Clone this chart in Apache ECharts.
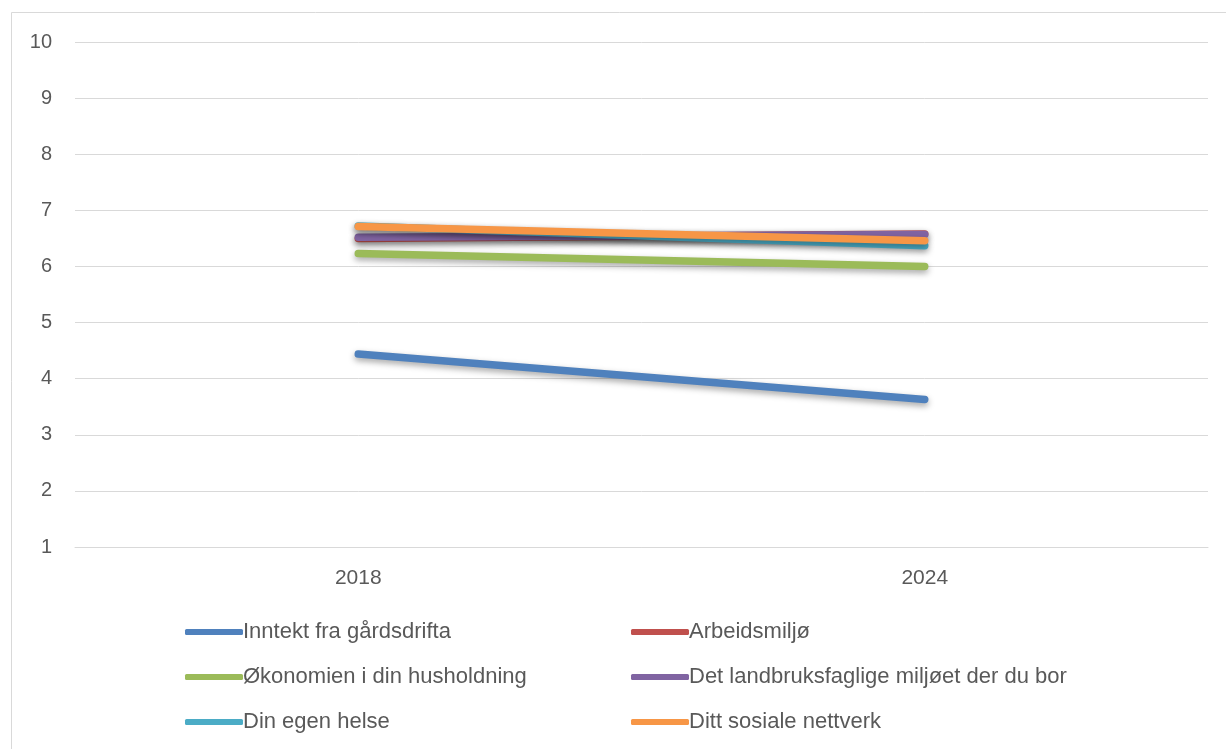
<!DOCTYPE html>
<html>
<head>
<meta charset="utf-8">
<script src="https://cdn.jsdelivr.net/npm/echarts@6/dist/echarts.min.js"></script>
<style>
  html, body { margin: 0; padding: 0; background: #fff; }
  #main { width: 1226px; height: 749px; }
</style>
</head>
<body>
<div id="main"></div>
<script>
// categories and series values
var years = ['2018', '2024'];
var seriesNames = [
  'Inntekt fra gårdsdrifta',
  'Arbeidsmiljø',
  'Økonomien i din husholdning',
  'Det landbruksfaglige miljøet der du bor',
  'Din egen helse',
  'Ditt sosiale nettverk'
];
var inntekt = [4.44, 3.63];
var arbeidsmiljo = [6.50, 6.58];
var okonomien = [6.23, 6.00];
var landbruksmiljo = [6.52, 6.57];
var helse = [6.72, 6.37];
var nettverk = [6.71, 6.46];
var colors = ['#4f81bd', '#c0504d', '#9bbb59', '#8064a2', '#4bacc6', '#f79646'];

var allValues = [inntekt, arbeidsmiljo, okonomien, landbruksmiljo, helse, nettverk];
var textColor = '#595959';
var fontFam = 'Liberation Sans, Arial, sans-serif';

var chart = echarts.init(document.getElementById('main'));

var series = seriesNames.map(function (name, i) {
  return {
    name: name,
    type: 'line',
    data: allValues[i],
    symbol: 'none',
    z: 2 + i,
    lineStyle: {
      width: 7.5,
      cap: 'round',
      color: colors[i],
      shadowColor: 'rgba(0,0,0,0.35)',
      shadowBlur: 6,
      shadowOffsetY: 3
    },
    itemStyle: { color: colors[i] }
  };
});

function legendCol(left, names) {
  return {
    orient: 'vertical',
    left: left,
    top: 616,
    itemGap: 23,
    itemWidth: 58,
    itemHeight: 6,
    icon: 'roundRect',
    data: names,
    textStyle: { color: textColor, fontSize: 22, fontFamily: fontFam, padding: [0, 0, 0, -5] }
  };
}

chart.setOption({
  backgroundColor: '#fff',
  animation: false,
  color: colors,
  graphic: [{
    type: 'rect',
    shape: { x: 11.5, y: 12.5, width: 1230, height: 760 },
    style: { fill: 'none', stroke: '#d9d9d9', lineWidth: 1 },
    silent: true
  }],
  grid: { left: 75, right: 18, top: 42, bottom: 202, containLabel: false },
  legend: [
    legendCol(180, [seriesNames[0], seriesNames[2], seriesNames[4]]),
    legendCol(626, [seriesNames[1], seriesNames[3], seriesNames[5]])
  ],
  xAxis: {
    type: 'category',
    data: years,
    boundaryGap: true,
    axisLine: { lineStyle: { color: '#d9d9d9', width: 1 } },
    axisTick: { show: false },
    axisLabel: { color: textColor, fontSize: 21, fontFamily: fontFam, margin: 21 }
  },
  yAxis: {
    type: 'value',
    min: 1,
    max: 10,
    interval: 1,
    axisLine: { show: false },
    axisTick: { show: false },
    axisLabel: { color: textColor, fontSize: 20, fontFamily: fontFam, margin: 23 },
    splitLine: { lineStyle: { color: '#d9d9d9', width: 1 } }
  },
  series: series
});
</script>
</body>
</html>
